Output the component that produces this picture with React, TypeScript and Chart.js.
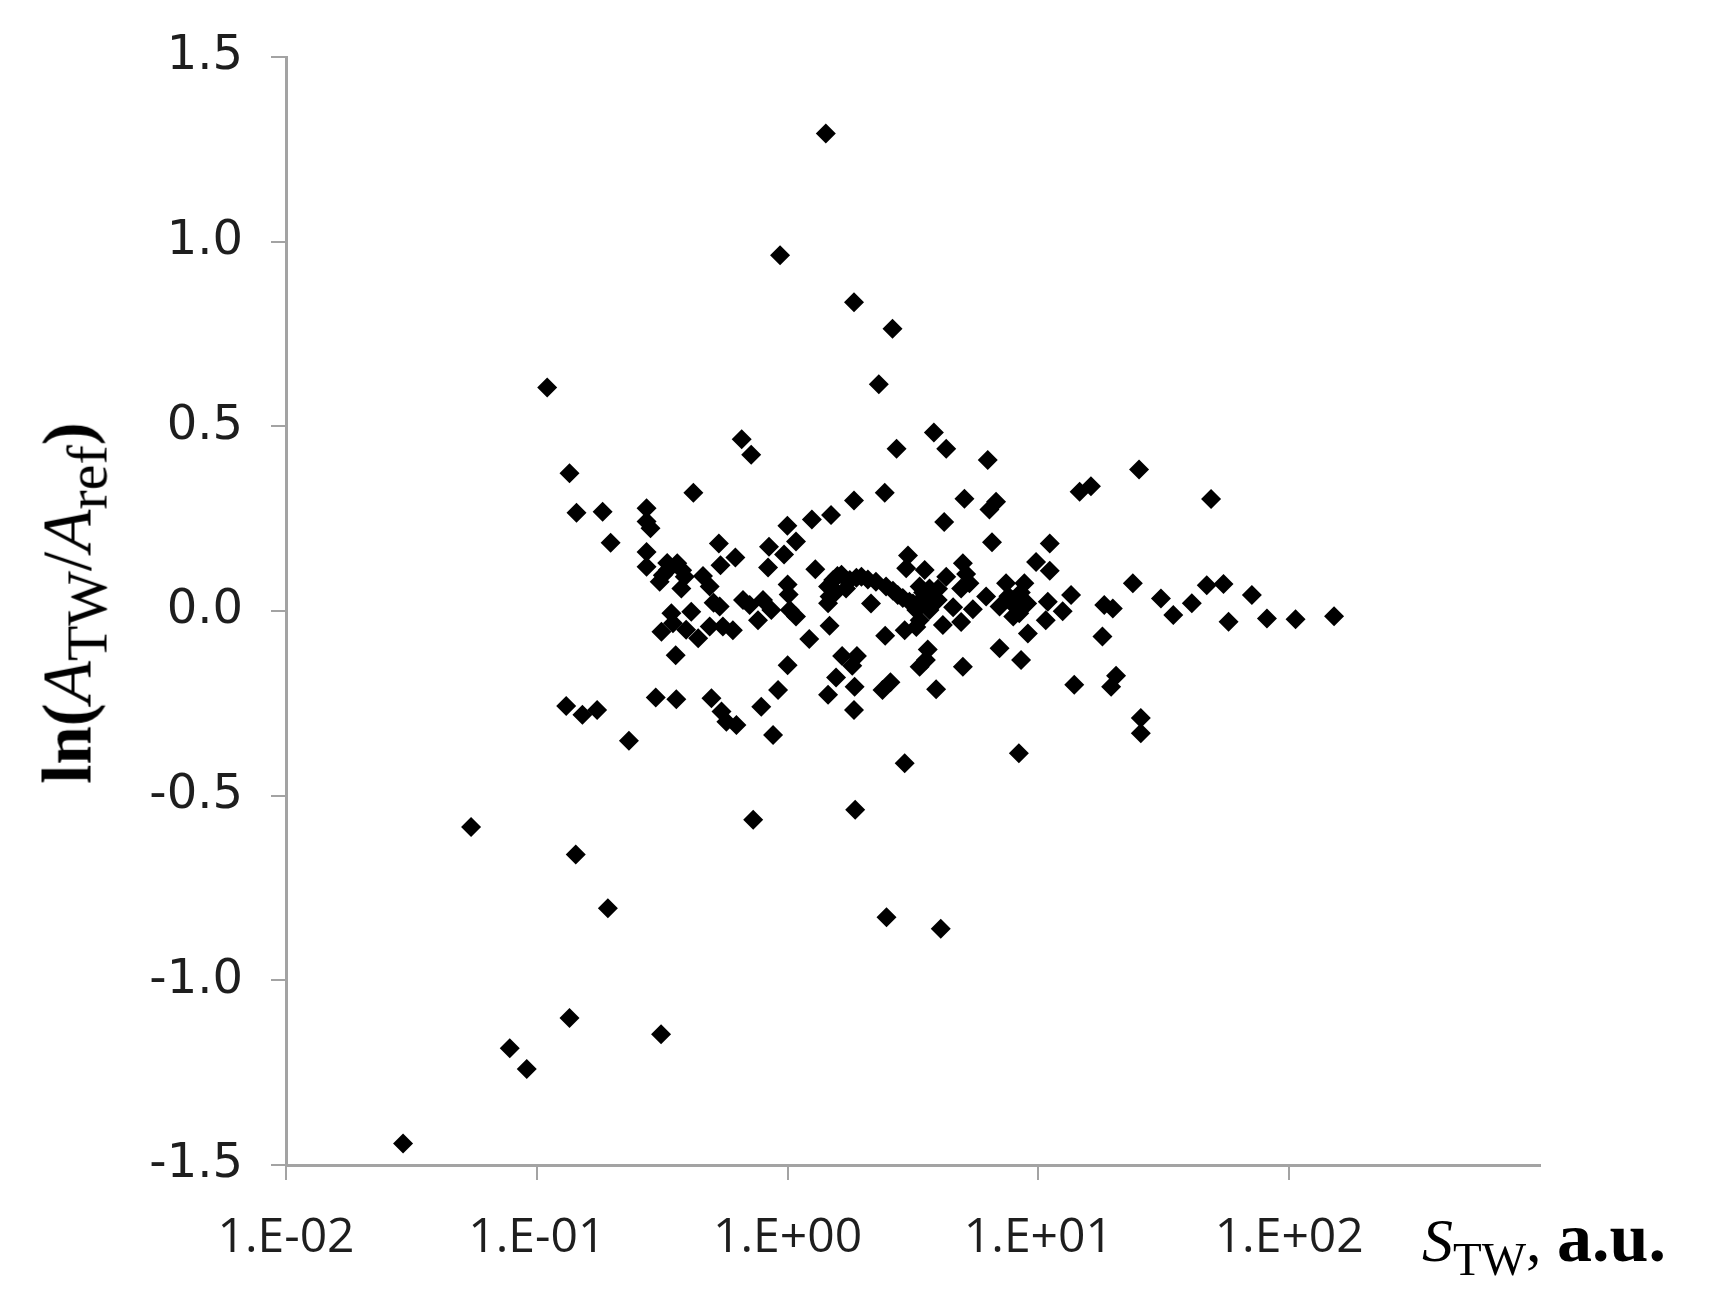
import React, { useEffect, useRef } from "react";
import { Chart, registerables } from "chart.js";

Chart.register(...registerables);

// S_TW values (a.u.)
const sTW: number[] = [
  0.0293, 0.0547, 0.078, 0.0912, 0.11, 0.135, 0.135, 0.143, 0.144, 0.131,
  0.152, 0.174, 0.183, 0.192, 0.197, 0.233, 0.274, 0.274, 0.284, 0.274,
  0.274, 0.298, 0.313, 0.309, 0.333, 0.363, 0.389, 0.377, 0.318, 0.46,
  0.489, 0.507, 0.536, 0.344, 0.349, 0.413, 0.314, 0.394, 0.44, 0.489,
  0.552, 0.358, 0.36, 0.497, 0.545, 0.57, 0.625, 0.421, 0.532, 0.54,
  0.619, 0.605, 0.656, 0.716, 0.664, 0.706, 0.798, 0.861, 0.762, 0.785,
  0.729, 0.875, 0.916, 0.933, 0.843, 0.836, 0.998, 1.08, 0.968, 1.0,
  1.01, 1.02, 1.08, 1.0, 1.25, 1.29, 1.22, 1.42, 1.49, 1.45,
  1.52, 1.64, 1.77, 1.47, 1.56, 1.45, 1.71, 1.47, 1.45, 1.56,
  1.65, 1.89, 1.81, 1.84, 1.84, 1.97, 2.15, 1.85, 1.84, 1.86,
  2.25, 2.47, 2.31, 2.44, 2.45, 2.39, 2.57, 2.62, 2.72, 2.48,
  2.75, 2.93, 2.93, 3.02, 2.97, 3.06, 3.36, 3.4, 3.52, 3.68,
  3.79, 3.97, 3.26, 3.68, 3.36, 3.62, 3.56, 3.36, 3.83, 4.29,
  4.08, 3.91, 4.21, 4.29, 4.16, 4.92, 5.0, 5.15, 4.92, 5.31,
  5.0, 5.07, 5.48, 6.19, 6.28, 6.38, 6.78, 6.53, 7.43, 8.79,
  7.91, 8.39, 7.0, 9.08, 7.0, 8.53, 8.36, 9.79, 11.1, 11.1,
  10.9, 10.7, 12.5, 13.5, 13.9, 14.6, 16.2, 18.3, 19.8, 18.0,
  20.4, 19.5, 23.8, 25.2, 25.6, 25.6, 30.8, 34.5, 40.9, 46.9,
  48.8, 54.7, 57.3, 71.0, 81.5, 106, 151,
  1.58, 1.88, 2.09, 2.63, 2.88, 3.16, 3.47, 3.98, 7.59, 8.13,
  8.51, 7.94, 9.02, 0.331, 0.38, 3.26, 4.57,
];

// ln(A_TW / A_ref) values
const lnRatio: number[] = [
  -1.442, -0.585, -1.184, -1.24, 0.605, -1.102, 0.373, -0.659, 0.266, -0.257,
  -0.281, -0.268, 0.269, -0.805, 0.185, -0.351, 0.278, 0.242, 0.224, 0.16,
  0.12, -0.234, -1.146, 0.079, 0.111, 0.129, 0.093, 0.061, 0.097, 0.095,
  0.066, 0.022, 0.012, -0.006, -0.033, -0.002, -0.056, -0.051, -0.074, -0.042,
  -0.042, -0.12, -0.239, -0.236, -0.272, -0.3, -0.309, 0.32, 0.183, 0.124,
  0.145, -0.052, 0.465, 0.423, 0.03, 0.016, 0.03, 0.003, -0.025, -0.259,
  -0.565, -0.336, -0.214, 0.963, 0.174, 0.118, 0.231, 0.188, 0.153, 0.072,
  0.045, 0.003, -0.015, -0.147, 0.248, 0.113, -0.076, 1.293, 0.26, 0.066,
  0.084, 0.098, 0.084, 0.039, 0.052, 0.021, 0.061, -0.04, -0.227, -0.18,
  -0.122, -0.122, -0.148, 0.836, 0.299, 0.093, 0.02, -0.205, -0.268, -0.538,
  0.079, 0.066, 0.614, 0.32, -0.067, -0.214, -0.193, 0.764, 0.439, -0.829,
  0.043, -0.412, -0.052, 0.15, 0.116, 0.025, 0.066, 0.03, 0.111, 0.061,
  0.039, 0.03, 0.003, 0.003, -0.025, -0.104, -0.133, -0.151, 0.483, 0.439,
  -0.86, -0.212, 0.241, 0.093, -0.038, -0.03, 0.129, 0.1, 0.061, 0.075,
  -0.151, 0.304, 0.005, 0.039, 0.409, 0.275, 0.296, 0.186, 0.075, 0.075,
  0.03, -0.006, 0.012, -0.061, -0.101, -0.133, -0.385, 0.133, 0.183, 0.109,
  0.025, -0.025, -0.001, 0.043, -0.2, 0.323, 0.338, 0.016, 0.007, -0.069,
  -0.175, -0.205, 0.075, 0.383, -0.29, -0.331, 0.034, -0.011, 0.021, 0.07,
  0.303, 0.073, -0.029, 0.043, -0.02, -0.022, -0.014,
  0.095, 0.09, 0.085, 0.055, 0.035, 0.02, 0.05, 0.06, 0.04, 0.01,
  0.05, -0.015, 0.02, 0.13, 0.11, -0.043, 0.01,
];

const xTickValues: number[] = [0.01, 0.1, 1, 10, 100];
const xTickLabels: string[] = ["1.E-02", "1.E-01", "1.E+00", "1.E+01", "1.E+02"];
const yTickValues: number[] = [-1.5, -1.0, -0.5, 0.0, 0.5, 1.0, 1.5];

const W = 1711;
const H = 1301;
const AXIS_COLOR = "#a3a3a3";

export default function App() {
  const ref = useRef<HTMLCanvasElement | null>(null);

  useEffect(() => {
    if (!ref.current) return;
    const points = sTW.map((x, i) => ({ x, y: lnRatio[i] }));
    const chart = new Chart(ref.current, {
      type: "scatter",
      data: {
        datasets: [
          {
            data: points,
            pointStyle: "rectRot",
            pointRadius: 10,
            pointBackgroundColor: "#000",
            pointBorderWidth: 0,
            pointBorderColor: "#000",
          },
        ],
      },
      options: {
        animation: false,
        responsive: false,
        maintainAspectRatio: false,
        events: [],
        layout: { padding: { left: 0, top: 57, right: 171, bottom: 0 } },
        plugins: { legend: { display: false }, tooltip: { enabled: false } },
        scales: {
          x: {
            type: "logarithmic",
            position: "bottom",
            min: 0.01,
            max: 1000,
            afterBuildTicks: (s: any) => {
              s.ticks = xTickValues.map((v) => ({ value: v }));
            },
            afterFit: (s: any) => {
              s.height = H - 1165;
            },
            ticks: {
              autoSkip: false,
              maxRotation: 0,
              callback: (_v: any, i: number) => xTickLabels[i],
              font: { family: "'Open Sans'", size: 48 },
              color: "#1e1e1e",
              padding: 30,
            },
            grid: {
              display: true,
              drawOnChartArea: false,
              drawTicks: true,
              tickLength: 15,
              color: AXIS_COLOR,
              lineWidth: 2,
            },
            border: { display: true, color: AXIS_COLOR, width: 3 },
          },
          y: {
            type: "linear",
            min: -1.5,
            max: 1.5,
            afterBuildTicks: (s: any) => {
              s.ticks = yTickValues.map((v) => ({ value: v }));
            },
            afterFit: (s: any) => {
              s.width = 286;
            },
            ticks: {
              callback: (v: any) => Number(v).toFixed(1),
              font: { family: "'DejaVu Sans'", size: 48 },
              color: "#1e1e1e",
              padding: 28,
            },
            grid: {
              display: true,
              drawOnChartArea: false,
              drawTicks: true,
              tickLength: 15,
              color: AXIS_COLOR,
              lineWidth: 2,
            },
            border: { display: true, color: AXIS_COLOR, width: 3 },
          },
        },
      },
    });
    return () => chart.destroy();
  }, []);

  const serif = "'Liberation Serif', 'Times New Roman', serif";

  return (
    <div style={{ position: "relative", width: W, height: H, background: "#fff" }}>
      <style>{`body{margin:0;}`}</style>
      <canvas ref={ref} width={W} height={H} style={{ position: "absolute", left: 0, top: 0, width: W, height: H }} />
      <div
        style={{
          position: "absolute",
          left: 68,
          top: 603,
          transform: "translate(-50%, -50%) rotate(-90deg)",
          whiteSpace: "nowrap",
          fontFamily: serif,
          fontSize: 69,
          fontWeight: "bold",
          lineHeight: 1,
          color: "#000",
        }}
      >
        ln(
        <span style={{ fontStyle: "italic", fontWeight: "normal" }}>A</span>
        <span style={{ fontWeight: "normal", fontSize: 58, position: "relative", top: 16 }}>TW</span>
        <span style={{ fontWeight: "normal" }}>/</span>
        <span style={{ fontStyle: "italic", fontWeight: "normal" }}>A</span>
        <span style={{ fontWeight: "normal", fontSize: 58, position: "relative", top: 16 }}>ref</span>)
      </div>
      <div
        style={{
          position: "absolute",
          left: 1422,
          top: 1203,
          whiteSpace: "nowrap",
          fontFamily: serif,
          fontSize: 62,
          lineHeight: 1,
          color: "#000",
        }}
      >
        <span style={{ fontStyle: "italic" }}>S</span>
        <span style={{ fontSize: 47, position: "relative", top: 14 }}>TW</span>
        <span>, </span>
        <span style={{ fontWeight: "bold", fontSize: 70 }}>a.u.</span>
      </div>
    </div>
  );
}
